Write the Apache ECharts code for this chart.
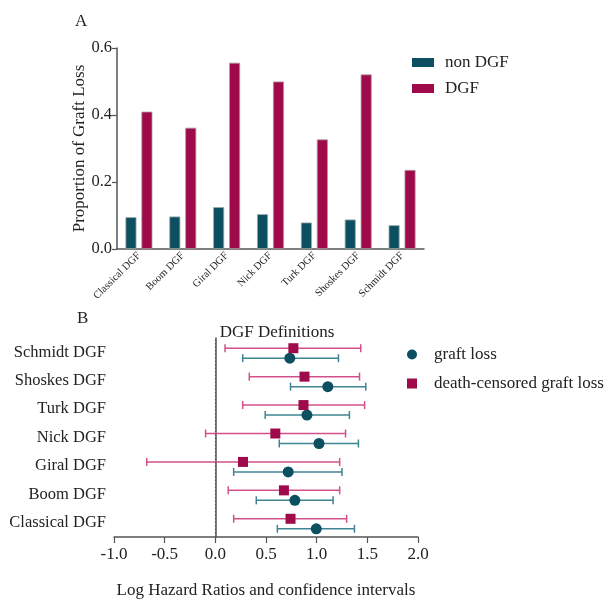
<!DOCTYPE html>
<html>
<head>
<meta charset="utf-8">
<script src="https://cdn.jsdelivr.net/npm/echarts@6/dist/echarts.min.js"></script>
<style>
  html, body { margin: 0; padding: 0; background: #fff; }
  #main { width: 608px; height: 600px; }
</style>
</head>
<body>
<div id="main"></div>
<script>
// panel A: proportion of graft loss
const barCategories = ['Classical DGF', 'Boom DGF', 'Giral DGF', 'Nick DGF', 'Turk DGF', 'Shoskes DGF', 'Schmidt DGF'];
const nonDgf = [0.095, 0.097, 0.125, 0.104, 0.079, 0.088, 0.071];
const dgf = [0.410, 0.362, 0.556, 0.500, 0.327, 0.521, 0.236];

// panel B: log hazard ratios (bottom to top)
const forestCategories = ['Classical DGF', 'Boom DGF', 'Giral DGF', 'Nick DGF', 'Turk DGF', 'Shoskes DGF', 'Schmidt DGF'];
const graftLoss = [0.996, 0.785, 0.719, 1.023, 0.904, 1.110, 0.735];
const graftLossLow = [0.612, 0.404, 0.181, 0.631, 0.492, 0.742, 0.270];
const graftLossHigh = [1.373, 1.162, 1.250, 1.412, 1.323, 1.485, 1.215];
const dcGraftLoss = [0.742, 0.677, 0.273, 0.592, 0.870, 0.880, 0.770];
const dcGraftLossLow = [0.181, 0.127, -0.677, -0.096, 0.270, 0.335, 0.096];
const dcGraftLossHigh = [1.296, 1.227, 1.227, 1.285, 1.473, 1.423, 1.435];

const serif = 'Liberation Serif';
const teal = '#0c4f60';
const crimson = '#9e0a4a';
const tealLine = '#3f8493';
const crimsonLine = '#d2508a';
const axisColor = '#555';

const chart = echarts.init(document.getElementById('main'));

// error bar drawn at a pixel offset from the category centre
function errorBar(offset, color) {
    return function (params, api) {
        const cat = api.value(0);
        const p1 = api.coord([api.value(1), cat]);
        const p2 = api.coord([api.value(2), cat]);
        const y = p1[1] + offset;
        const h = 4;
        const style = { stroke: color, lineWidth: 1.5 };
        return {
            type: 'group',
            children: [
                { type: 'line', shape: { x1: p1[0], y1: y, x2: p2[0], y2: y }, style: style },
                { type: 'line', shape: { x1: p1[0], y1: y - h, x2: p1[0], y2: y + h }, style: style },
                { type: 'line', shape: { x1: p2[0], y1: y - h, x2: p2[0], y2: y + h }, style: style }
            ]
        };
    };
}

const option = {
    backgroundColor: '#fff',
    animation: false,
    textStyle: { fontFamily: serif, color: '#222' },
    title: [
        { text: 'A', left: 70, top: 8, textStyle: { fontFamily: serif, fontSize: 17, fontWeight: 'normal', color: '#222' } },
        { text: 'B', left: 72, top: 305, textStyle: { fontFamily: serif, fontSize: 17, fontWeight: 'normal', color: '#222' } },
        { text: 'DGF Definitions', left: 272, top: 319, textAlign: 'center', textStyle: { fontFamily: serif, fontSize: 17, fontWeight: 'normal', color: '#222' } }
    ],
    legend: [
        {
            data: ['non DGF', 'DGF'],
            orient: 'vertical',
            left: 412, top: 54, padding: 0,
            icon: 'rect',
            itemWidth: 22, itemHeight: 9, itemGap: 9,
            itemStyle: { borderWidth: 0 },
            textStyle: { fontFamily: serif, fontSize: 17, color: '#222', padding: [0, 0, 0, 6] }
        },
        {
            data: ['graft loss', 'death-censored graft loss'],
            orient: 'vertical',
            left: 407, top: 346, padding: 0,
            itemWidth: 10, itemHeight: 10, itemGap: 12,
            textStyle: { fontFamily: serif, fontSize: 17, color: '#222', padding: [0, 0, 0, 12] }
        }
    ],
    grid: [
        { left: 117, top: 48, width: 307, height: 201 },
        { left: 114, top: 338, width: 304, height: 207 }
    ],
    xAxis: [
        {
            gridIndex: 0,
            type: 'category',
            data: barCategories,
            axisLine: { lineStyle: { color: axisColor, width: 1.5 } },
            axisTick: { alignWithLabel: true, length: 5, lineStyle: { color: axisColor, width: 1.2 } },
            axisLabel: { rotate: 45, fontSize: 10.5, margin: 5, color: '#222', fontFamily: serif }
        },
        {
            gridIndex: 1,
            type: 'value',
            min: -1, max: 2, interval: 0.5,
            splitLine: { show: false },
            axisLine: { show: true, lineStyle: { color: axisColor, width: 1.5 } },
            axisTick: { show: true, length: 6, lineStyle: { color: axisColor, width: 1.2 } },
            axisLabel: { fontSize: 17, margin: 9, color: '#222', fontFamily: serif, formatter: v => v.toFixed(1) },
            name: 'Log Hazard Ratios and confidence intervals',
            nameLocation: 'middle',
            nameGap: 45,
            nameMoveOverlap: false,
            nameTextStyle: { fontSize: 17, color: '#222', fontFamily: serif }
        }
    ],
    yAxis: [
        {
            gridIndex: 0,
            type: 'value',
            min: 0, max: 0.6, interval: 0.2,
            splitLine: { show: false },
            axisLine: { show: true, lineStyle: { color: axisColor, width: 1.5 } },
            axisTick: { show: true, length: 5, lineStyle: { color: axisColor, width: 1.2 } },
            axisLabel: { fontSize: 16.5, margin: 5, color: '#222', fontFamily: serif, formatter: v => v.toFixed(1) },
            name: 'Proportion of Graft Loss',
            nameLocation: 'middle',
            nameGap: 29,
            nameMoveOverlap: false,
            nameTextStyle: { fontSize: 17, color: '#222', fontFamily: serif }
        },
        {
            gridIndex: 1,
            type: 'category',
            data: forestCategories,
            axisLine: { lineStyle: { color: axisColor, width: 1.5 } },
            axisTick: { alignWithLabel: true, length: 5, lineStyle: { color: axisColor, width: 1.2 } },
            axisLabel: { fontSize: 16.5, margin: 8, color: '#222', fontFamily: serif }
        }
    ],
    series: [
        {
            name: 'non DGF', type: 'bar', xAxisIndex: 0, yAxisIndex: 0,
            data: nonDgf,
            barWidth: 11, barGap: '45%',
            itemStyle: { color: teal, borderColor: '#9aa', borderWidth: 0.8 }
        },
        {
            name: 'DGF', type: 'bar', xAxisIndex: 0, yAxisIndex: 0,
            data: dgf,
            barWidth: 11,
            itemStyle: { color: crimson, borderColor: '#a99', borderWidth: 0.8 }
        },
        {
            name: 'dc-bars', type: 'custom', xAxisIndex: 1, yAxisIndex: 1,
            renderItem: errorBar(-4, crimsonLine),
            data: forestCategories.map((c, i) => [i, dcGraftLossLow[i], dcGraftLossHigh[i]]),
            encode: { x: [1, 2], y: 0 },
            z: 2,
            markLine: {
                silent: true,
                symbol: 'none',
                label: { show: false },
                lineStyle: { color: '#555', type: [1.5, 2], width: 1.1 },
                data: [{ xAxis: 0 }]
            }
        },
        {
            name: 'gl-bars', type: 'custom', xAxisIndex: 1, yAxisIndex: 1,
            renderItem: errorBar(6, tealLine),
            data: forestCategories.map((c, i) => [i, graftLossLow[i], graftLossHigh[i]]),
            encode: { x: [1, 2], y: 0 },
            z: 2
        },
        {
            name: 'graft loss', type: 'scatter', xAxisIndex: 1, yAxisIndex: 1,
            data: forestCategories.map((c, i) => [graftLoss[i], i]),
            symbol: 'circle', symbolSize: 11, symbolOffset: [0, 6],
            itemStyle: { color: teal, opacity: 1 },
            z: 5
        },
        {
            name: 'death-censored graft loss', type: 'scatter', xAxisIndex: 1, yAxisIndex: 1,
            data: forestCategories.map((c, i) => [dcGraftLoss[i], i]),
            symbol: 'rect', symbolSize: 10, symbolOffset: [0, -4],
            itemStyle: { color: crimson, opacity: 1 },
            z: 5
        }
    ]
};

chart.setOption(option);
</script>
</body>
</html>
